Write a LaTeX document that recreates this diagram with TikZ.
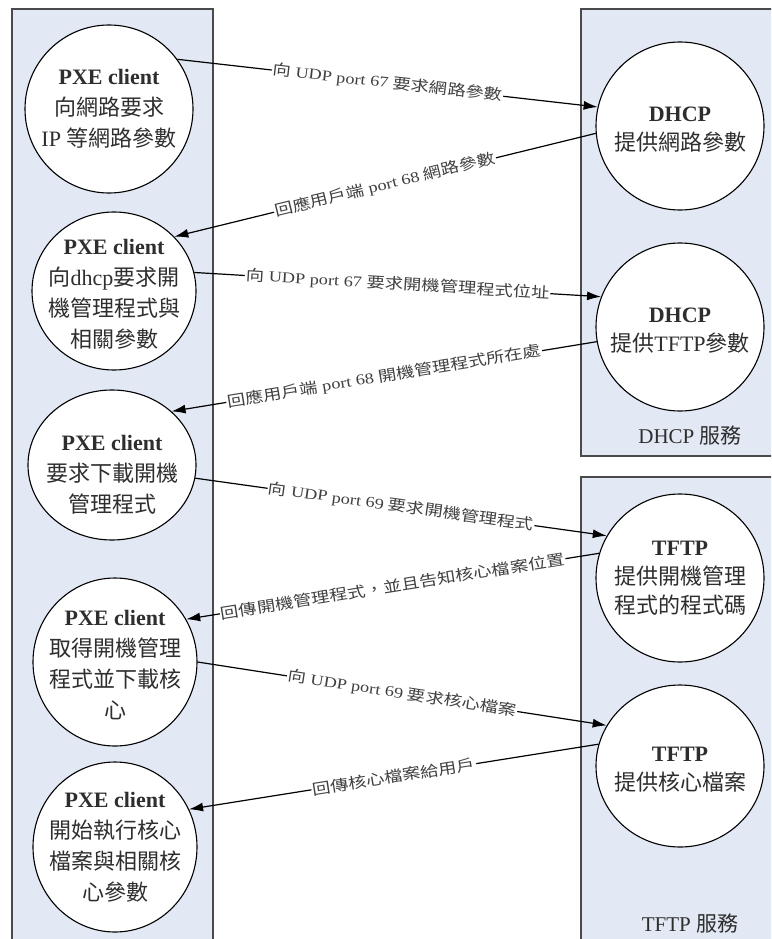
\documentclass[tikz,border=0pt]{standalone}
\usepackage{fontspec}
\usepackage{graphicx}
\setmainfont{Liberation Serif}
\newfontfamily\cjk{Noto Sans CJK TC}
\usetikzlibrary{arrows.meta,shapes.geometric}
\newcommand\zh[1]{{\cjk #1}}
\newcommand\lbl[1]{\scalebox{1.22}[1]{#1}}
\definecolor{panelfill}{HTML}{E2E9F4}
\definecolor{panelline}{HTML}{4A4A4A}
\definecolor{txt}{HTML}{2E2E2E}
\definecolor{lbltxt}{HTML}{404040}
\tikzset{
  panel/.style={draw=panelline, line width=1.4pt, fill=panelfill},
  blob/.style={ellipse, draw=black, line width=1.1pt, fill=white, inner sep=0pt},
  lefttext/.style={align=center, text=txt, font=\fontsize{22}{31}\selectfont, inner sep=0pt},
  righttext/.style={align=center, text=txt, font=\fontsize{22}{29}\selectfont, inner sep=0pt},
  flow/.style={draw=black, line width=1.2pt, -{Latex[length=14pt,width=9pt]}},
  flowlabel/.style={sloped, fill=white, inner sep=1pt, text=lbltxt, font=\fontsize{15}{17}\selectfont, pos=0.5},
  paneltitle/.style={text=txt, font=\fontsize{21}{25}\selectfont, inner sep=0pt},
}
\begin{document}
\begin{tikzpicture}[x=1pt,y=-1pt]
\useasboundingbox (0,0) rectangle (771,939);
\clip (0,0) rectangle (771,939);
% panels
\draw[panel] (12,9) rectangle (213,955);
\draw[panel] (581,9) rectangle (785,456);
\draw[panel] (581,477) rectangle (785,955);
\node[paneltitle] (dhcptitle) at (690,436) {DHCP \zh{服務}};
\node[paneltitle] (tftptitle) at (690,924) {TFTP \zh{服務}};
% left ellipses
\node[blob, minimum width=168pt, minimum height=168pt] (e1) at (109,109) {};
\node[blob, minimum width=164pt, minimum height=158pt] (e2) at (114,291) {};
\node[blob, minimum width=168pt, minimum height=150pt] (e3) at (112,465) {};
\node[blob, minimum width=164pt, minimum height=168pt] (e4) at (115,662) {};
\node[blob, minimum width=164pt, minimum height=170pt] (e5) at (115,847) {};
% right ellipses
\node[blob, minimum width=168pt, minimum height=168pt] (d1) at (680,126) {};
\node[blob, minimum width=168pt, minimum height=168pt] (d2) at (680,327) {};
\node[blob, minimum width=168pt, minimum height=168pt] (f1) at (680,578) {};
\node[blob, minimum width=168pt, minimum height=162pt] (f2) at (680,766) {};
% texts
\node[lefttext] (t1) at (e1.center) {\textbf{PXE client}\\\zh{向網路要求}\\IP \zh{等網路參數}};
\node[lefttext] (t2) at ([yshift=-3pt]e2.center) {\textbf{PXE client}\\\zh{向}dhcp\zh{要求開}\\\zh{機管理程式與}\\\zh{相關參數}};
\node[lefttext] (t3) at ([yshift=-10pt]e3.center) {\textbf{PXE client}\\\zh{要求下載開機}\\\zh{管理程式}};
\node[lefttext] (t4) at ([yshift=-3pt]e4.center) {\textbf{PXE client}\\\zh{取得開機管理}\\\zh{程式並下載核}\\\zh{心}};
\node[lefttext] (t5) at (e5.center) {\textbf{PXE client}\\\zh{開始執行核心}\\\zh{檔案與相關核}\\\zh{心參數}};
\node[righttext] (u1) at ([yshift=-4pt]d1.center) {\textbf{DHCP}\\\zh{提供網路參數}};
\node[righttext] (u2) at ([yshift=-4pt]d2.center) {\textbf{DHCP}\\\zh{提供}TFTP\zh{參數}};
\node[righttext] (u3) at (f1.center) {\textbf{TFTP}\\\zh{提供開機管理}\\\zh{程式的程式碼}};
\node[righttext] (u4) at ([yshift=-4pt]f2.center) {\textbf{TFTP}\\\zh{提供核心檔案}};
% connectors
\draw[flow] (e1.36) -- node[flowlabel] {\lbl{\zh{向} UDP port 67 \zh{要求網路參數}}} (d1.167);
\draw[flow] (d1.185) -- node[flowlabel] {\lbl{\zh{回應用戶端} port 68 \zh{網路參數}}} (e2.42);
\draw[flow] (e2.13) -- node[flowlabel] {\lbl{\zh{向} UDP port 67 \zh{要求開機管理程式位址}}} (d2.159);
\draw[flow] (d2.190) -- node[flowlabel] {\lbl{\zh{回應用戶端} port 68 \zh{開機管理程式所在處}}} (e3.42);
\draw[flow] (e3.-9) -- node[flowlabel] {\lbl{\zh{向} UDP port 69 \zh{要求開機管理程式}}} (f1.150);
\draw[flow] (f1.163) -- node[flowlabel] {\lbl{\zh{回傳開機管理程式，並且告知核心檔案位置}}} (e4.31);
\draw[flow] (e4.0) -- node[flowlabel] {\lbl{\zh{向} UDP port 69 \zh{要求核心檔案}}} (f2.151);
\draw[flow] (f2.165) -- node[flowlabel] {\lbl{\zh{回傳核心檔案給用戶}}} (e5.27);
\end{tikzpicture}
\end{document}
